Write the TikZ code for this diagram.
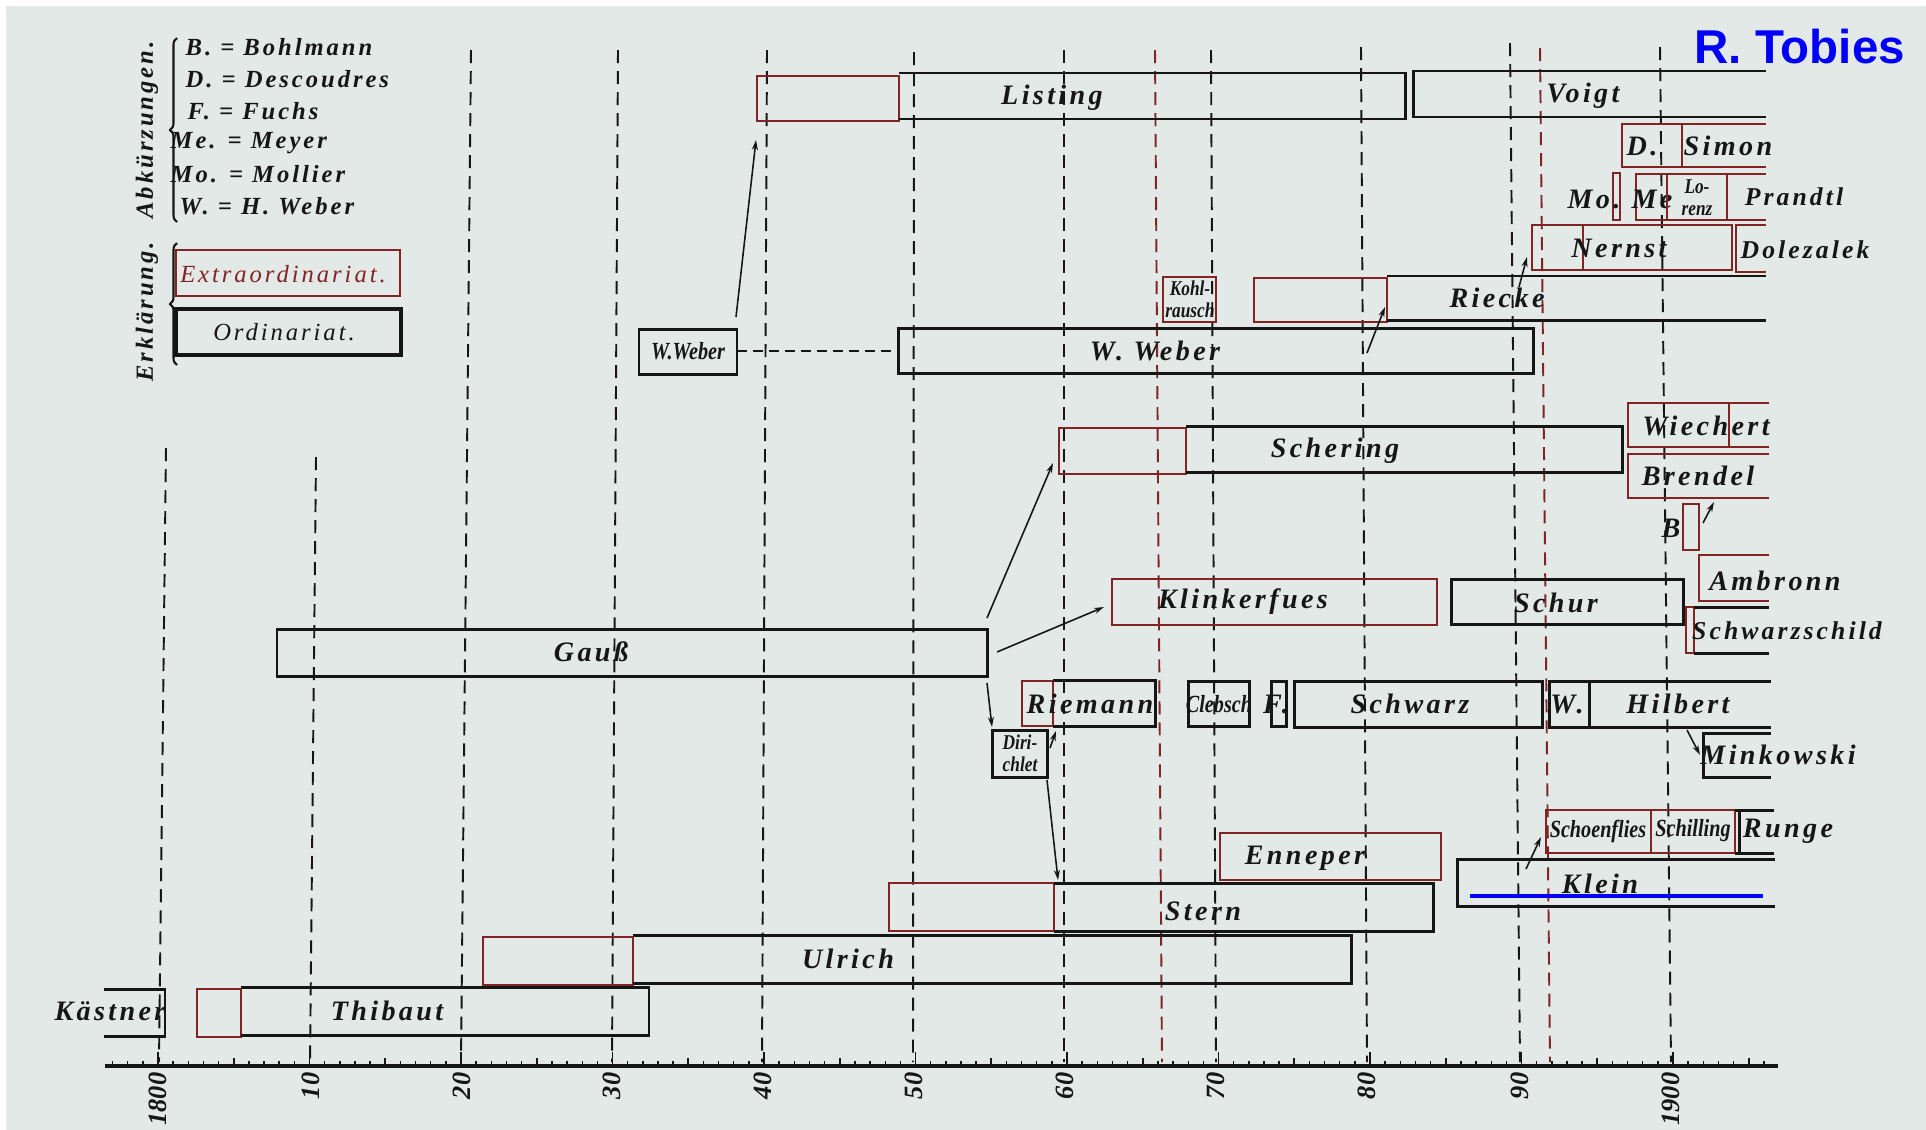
\documentclass[tikz,border=0pt]{standalone}
\usepackage{fontspec}
\setmainfont{Liberation Serif}
\newfontfamily\nmfont{Liberation Serif}[LetterSpace=12]
\newfontfamily\plfont{Liberation Serif}
\newfontfamily\cdfont{Liberation Serif}[FakeStretch=0.82]
\newfontfamily\tobfont{Liberation Sans}
\usetikzlibrary{arrows.meta,decorations.pathreplacing}
\definecolor{paper}{RGB}{226,233,231}
\definecolor{ink}{RGB}{22,22,22}
\definecolor{redink}{RGB}{128,36,36}
\definecolor{tobblue}{RGB}{0,0,250}
\tikzset{
 ord/.style={draw=ink, line width=0.85pt},
 ext/.style={draw=redink, line width=0.75pt},
 grid/.style={draw=ink, line width=0.55pt, dash pattern=on 0.13cm off 0.08cm},
 gridred/.style={draw=redink, line width=0.55pt, dash pattern=on 0.13cm off 0.08cm},
 nm/.style={font=\nmfont\bfseries\itshape\fontsize{8}{9}\selectfont, text=ink, inner sep=0pt},
 nms/.style={font=\nmfont\bfseries\itshape\fontsize{7.3}{8}\selectfont, text=ink, inner sep=0pt},
 sm/.style={font=\cdfont\bfseries\itshape\fontsize{6}{6.2}\selectfont, text=ink, inner sep=0pt, align=center},
 smb/.style={font=\cdfont\bfseries\itshape\fontsize{7}{8}\selectfont, text=ink, inner sep=0pt},
 lg/.style={font=\nmfont\bfseries\itshape\fontsize{7}{8}\selectfont, text=ink, inner sep=0pt, anchor=west},
 lgrot/.style={font=\nmfont\bfseries\itshape\fontsize{7}{8}\selectfont, text=ink, inner sep=0pt, rotate=90},
 lgbox/.style={font=\nmfont\itshape\fontsize{7}{8}\selectfont, inner sep=0pt},
 lnk/.style={draw=ink, line width=0.45pt, -{Stealth[length=0.1cm,width=0.06cm]}},
 dlnk/.style={draw=ink, line width=0.55pt, dash pattern=on 0.1cm off 0.06cm},
 yr/.style={font=\plfont\bfseries\itshape\fontsize{7.5}{8}\selectfont, text=ink, rotate=90, anchor=east, inner sep=0pt},
 brc/.style={draw=ink, line width=0.6pt, decorate, decoration={brace, amplitude=0.07cm}},
}
\begin{document}
\begin{tikzpicture}[x=0.01cm,y=-0.01cm]
\useasboundingbox (0,0) rectangle (1926,1130);
\fill[white] (0,0) rectangle (1926,1130);
\fill[paper] (6,6) rectangle (1926,1130);

% grid lines
\foreach \xt/\xb/\yt in {166/159/448, 316/310/457, 471/461/50, 618/612/50, 767/762/50, 914/913/52, 1064/1064/50, 1211/1216/50, 1361/1367/47, 1510/1520/43, 1660/1671/47}
  \draw[grid] (\xt,\yt) -- (\xb,1062);
\draw[gridred] (1155,50) -- (1162,1062);
\draw[gridred] (1540,48) -- (1550,1062);

% axis
\draw[ink, line width=1.1pt] (105,1066) -- (1778,1066);
\foreach \i in {-3,...,106} \draw[ink, line width=0.4pt] ({158+15.15*\i},1066) -- ({158+15.15*\i},1061);
\foreach \i in {0,...,21} \draw[ink, line width=0.45pt] ({158+75.75*\i},1066) -- ({158+75.75*\i},1058);
\foreach \i in {0,...,10} \draw[ink, line width=0.55pt] ({158+151.5*\i},1066) -- ({158+151.5*\i},1052);
\foreach \x/\t in {158/1800, 311/10, 462/20, 612/30, 763/40, 914/50, 1065/60, 1216/70, 1367/80, 1520/90, 1671/1900}
  \node[yr] (yr\t) at (\x,1072) {\t};

% legend
\node[lgrot] (abk) at (147,130) {Abkürzungen.};
\node[lgrot] (erk) at (147,312) {Erklärung.};
\draw[brc] (177,222) -- (177,38);
\draw[brc] (177,365) -- (177,243);
\node[lg] (lb) at (185,47) {B. = Bohlmann};
\node[lg] (ld) at (185,79) {D. = Descoudres};
\node[lg] (lf) at (187,111) {F. = Fuchs};
\node[lg] (lme) at (170,143) {Me. = Meyer};
\node[lg] (lmo) at (170,174) {Mo. = Mollier};
\node[lg] (lw) at (179,206) {W. = H. Weber};
\draw[ext] (176,250) rectangle (400,296);
\node[lgbox, text=redink] (extra) at (283,274) {Extraordinariat.};
\draw[ord, line width=1.1pt] (176,309) rectangle (401,355);
\node[lgbox, text=ink] (ordi) at (284,332) {Ordinariat.};

% Listing, Voigt
\draw[ext] (757,76) rectangle (899,121);
\draw[ord] (899,73) -- (1405,73) -- (1405,119) -- (899,119);
\node[nm] (listing) at (1052,98) {Listing};
\draw[ord] (1766,71) -- (1413,71) -- (1413,117) -- (1766,117);
\node[nm] (voigt) at (1583,96) {Voigt};
% D. Simon
\draw[ext] (1622,124) rectangle (1682,167);
\draw[ext] (1682,124) -- (1766,124) (1682,167) -- (1766,167);
\node[nm] (dd) at (1642,146) {D.};
\node[nm] (simon) at (1728,146) {Simon};
% Mo Me Lorenz Prandtl
\draw[ext] (1613,173) rectangle (1620,220);
\node[nm] (mo) at (1594,199) {Mo.};
\draw[ext] (1636,174) rectangle (1667,220);
\node[nm] (me) at (1652,199) {Me};
\draw[ext] (1667,174) rectangle (1727,220);
\node[sm] (lorenz) at (1697,198) {Lo-\\renz};
\draw[ext] (1727,174) -- (1766,174) (1727,220) -- (1766,220);
\node[nms] (prandtl) at (1794,197) {Prandtl};
% Nernst, Dolezalek
\draw[ext] (1532,225) rectangle (1583,270);
\draw[ext] (1583,225) rectangle (1732,270);
\node[nm] (nernst) at (1619,248) {Nernst};
\draw[ext] (1766,225) -- (1736,225) -- (1736,272) -- (1766,272);
\node[nms] (dolezalek) at (1805,250) {Dolezalek};
% Kohlrausch, Riecke
\draw[ext] (1163,277) rectangle (1216,322);
\node[sm] (kohl) at (1190,299) {Kohl-\\rausch};
\draw[ext] (1254,278) rectangle (1387,322);
\draw[ord] (1387,276) -- (1766,276) (1387,320) -- (1766,320);
\node[nm] (riecke) at (1497,298) {Riecke};
% W. Weber
\draw[ord] (898,328) rectangle (1533,373);
\node[nm] (wweber) at (1155,351) {W. Weber};
\draw[ord] (639,329) rectangle (737,374);
\node[smb] (wwsmall) at (688,351) {W.Weber};
% Schering
\draw[ext] (1059,428) rectangle (1186,474);
\draw[ord] (1186,426) -- (1622,426) -- (1622,472) -- (1186,472);
\node[nm] (schering) at (1335,451) {Schering};
% Wiechert, Brendel, B
\draw[ext] (1769,403) -- (1628,403) -- (1628,447) -- (1769,447);
\draw[ext] (1729,403) -- (1729,447);
\node[nm] (wiechert) at (1706,426) {Wiechert};
\draw[ext] (1769,454) -- (1628,454) -- (1628,498) -- (1769,498);
\node[nm] (brendel) at (1698,476) {Brendel};
\draw[ext] (1683,504) rectangle (1699,550);
\node[nm] (bb) at (1671,528) {B};
% Ambronn, Schur, Schwarzschild
\draw[ext] (1769,555) -- (1699,555) -- (1699,601) -- (1769,601);
\node[nm] (ambronn) at (1775,581) {Ambronn};
\draw[ord] (1451,579) rectangle (1683,624);
\node[nm] (schur) at (1556,603) {Schur};
\draw[ext] (1686,607) rectangle (1694,653);
\draw[ord] (1694,607) -- (1769,607) (1694,653) -- (1769,653);
\node[nms] (schwarzschild) at (1787,631) {Schwarzschild};
% Klinkerfues
\draw[ext] (1112,579) rectangle (1437,625);
\node[nm] (klinker) at (1243,602) {Klinkerfues};
% Gauss
\draw[ord] (277,629) rectangle (987,676);
\node[nm] (gauss) at (591,652) {Gauß};
% Riemann, Clebsch, F., Schwarz, W., Hilbert
\draw[ext] (1022,681) rectangle (1053,726);
\draw[ord] (1053,680) -- (1155,680) -- (1155,726) -- (1053,726);
\node[nm] (riemann) at (1090,704) {Riemann};
\draw[ord] (1188,681) rectangle (1249,726);
\node[smb] (clebsch) at (1219,704) {Clebsch};
\draw[ord] (1271,681) rectangle (1286,726);
\node[nm] (ff) at (1276,704) {F.};
\draw[ord] (1294,681) rectangle (1542,727);
\node[nm] (schwarz) at (1410,704) {Schwarz};
\draw[ord] (1549,681) rectangle (1589,727);
\draw[ord] (1589,681) -- (1771,681) (1589,727) -- (1771,727);
\node[nm] (hw) at (1567,704) {W.};
\node[nm] (hilbert) at (1678,704) {Hilbert};
% Dirichlet, Minkowski
\draw[ord] (992,730) rectangle (1047,777);
\node[sm] (dirichlet) at (1020,753) {Diri-\\chlet};
\draw[ord] (1771,733) -- (1703,733) -- (1703,777) -- (1771,777);
\node[nm] (minkowski) at (1778,755) {Minkowski};
% Schoenflies, Schilling, Runge
\draw[ext] (1546,810) rectangle (1651,853);
\draw[ext] (1651,810) rectangle (1735,853);
\draw[ord] (1739,810) -- (1739,853) (1735,810) -- (1774,810) (1735,853) -- (1774,853);
\node[smb] (schoenflies) at (1598,831) {Schoenflies};
\node[smb] (schilling) at (1693,831) {Schilling};
\node[nm] (runge) at (1788,831) {Runge};
% Enneper, Klein
\draw[ext] (1220,833) rectangle (1441,880);
\node[nm] (enneper) at (1305,858) {Enneper};
\draw[ord] (1775,859) -- (1457,859) -- (1457,906) -- (1775,906);
\node[nm] (klein) at (1600,884) {Klein};
\draw[tobblue, line width=0.9pt] (1470,896) -- (1763,896);
% Stern, Ulrich, Thibaut, Kaestner
\draw[ext] (889,883) rectangle (1054,931);
\draw[ord] (1054,883) -- (1433,883) -- (1433,931) -- (1054,931);
\node[nm] (stern) at (1203,911) {Stern};
\draw[ext] (483,937) rectangle (633,985);
\draw[ord] (633,935) -- (1351,935) -- (1351,983) -- (633,983);
\node[nm] (ulrich) at (848,959) {Ulrich};
\draw[ext] (197,989) rectangle (241,1037);
\draw[ord] (241,987) -- (649,987) -- (649,1035) -- (241,1035);
\node[nm] (thibaut) at (387,1011) {Thibaut};
\draw[ord] (104,989) -- (165,989) -- (165,1036) -- (104,1036);
\node[nm] (kaestner) at (110,1011) {Kästner};

% connectors
\coordinate (a1s) at (736,317);  \coordinate (a1e) at (756,140);
\coordinate (a2s) at (987,618);  \coordinate (a2e) at (1053,463);
\coordinate (a3s) at (997,652);  \coordinate (a3e) at (1104,607);
\coordinate (a4s) at (987,683);  \coordinate (a4e) at (992,727);
\coordinate (a5s) at (1050,748); \coordinate (a5e) at (1056,731);
\coordinate (a6s) at (1047,780); \coordinate (a6e) at (1058,880);
\coordinate (a7s) at (1367,353); \coordinate (a7e) at (1385,307);
\coordinate (a8s) at (1519,287); \coordinate (a8e) at (1527,257);
\coordinate (a9s) at (1703,523); \coordinate (a9e) at (1714,502);
\coordinate (a10s) at (1687,730); \coordinate (a10e) at (1700,755);
\coordinate (a11s) at (1526,869); \coordinate (a11e) at (1541,837);
\coordinate (d1s) at (737,351); \coordinate (d1e) at (898,351);
\foreach \k in {1,...,11} \draw[lnk] (a\k s) -- (a\k e);
\draw[dlnk] (d1s) -- (d1e);

% stamp
\node[font=\tobfont\bfseries\fontsize{13.5}{15}\selectfont, text=tobblue, anchor=base west, inner sep=0pt] (tobies) at (1694,63) {R. Tobies};
\end{tikzpicture}
\end{document}
